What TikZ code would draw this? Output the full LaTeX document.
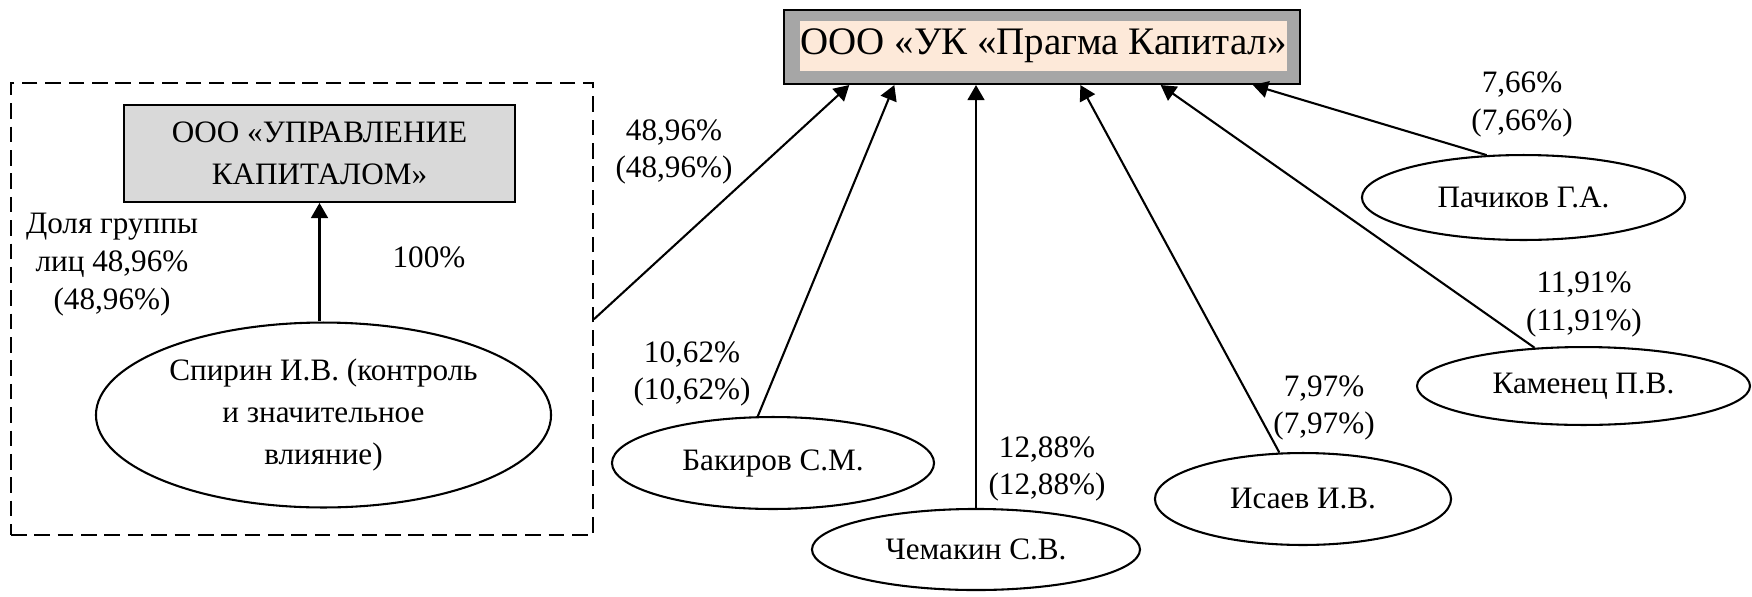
\documentclass[tikz,border=0pt]{standalone}
\usepackage{fontspec}
\setmainfont{Liberation Serif}
\usetikzlibrary{shapes.geometric,arrows.meta,calc}

\definecolor{peach}{HTML}{FDE9D9}
\definecolor{framegray}{HTML}{A6A6A6}
\definecolor{boxgray}{HTML}{D9D9D9}

\begin{document}
\begin{tikzpicture}[x=0.385pt,y=-0.385pt,
  every node/.style={inner sep=0pt,align=center,font=\fontsize{12}{16}\selectfont},
  owner/.style={draw,ellipse,line width=0.8pt},
  share/.style={font=\fontsize{12}{14.5}\selectfont},
  link/.style={line width=0.8pt,-{Triangle[length=5.8pt,width=6.5pt]}}]
\useasboundingbox (0,0) rectangle (1752,596);

\node[draw,dash pattern=on 6pt off 3pt,line width=0.7pt,minimum width=224.1pt,minimum height=174pt] (group) at (302,309) {};
\node[draw,fill=boxgray,line width=0.8pt,minimum width=150.5pt,minimum height=37.3pt] (Upr) at (319.5,153.5) {ООО «УПРАВЛЕНИЕ\\КАПИТАЛОМ»};
\node[owner,minimum width=175.2pt,minimum height=71.2pt] (Spirin) at (323.5,415) {Спирин И.В. (контроль\\и значительное\\влияние)};
\node[share] (groupshare) at (112,264.5) {Доля группы\\лиц 48,96\%\\(48,96\%)};
\node[share] (share100) at (429,257) {100\%};

\node[draw,fill=framegray,line width=0.8pt,minimum width=198.7pt,minimum height=28.5pt] (top) at (1042,47) {};
\node[fill=peach,minimum width=186.7pt,minimum height=19.25pt,font=\fontsize{15}{18}\selectfont] (topname) at (1043.5,46) {ООО «УК «Прагма Капитал»};

\node[owner,minimum width=124pt,minimum height=35.4pt] (Bakirov) at (773,463) {Бакиров С.М.};
\node[owner,minimum width=126.3pt,minimum height=31.2pt] (Chemakin) at (976,549.5) {Чемакин С.В.};
\node[owner,minimum width=114pt,minimum height=35.4pt] (Isaev) at (1303,499) {Исаев И.В.};
\node[owner,minimum width=128.2pt,minimum height=30pt] (Kamenets) at (1583.5,386) {Каменец П.В.};
\node[owner,minimum width=124.4pt,minimum height=32.7pt] (Pachikov) at (1523.5,197.5) {Пачиков Г.А.};

\node[share] (share4896) at (674,152) {48,96\%\\(48,96\%)};
\node[share] (share1062) at (692,374) {10,62\%\\(10,62\%)};
\node[share] (share1288) at (1047,469) {12,88\%\\(12,88\%)};
\node[share] (share797) at (1324,408) {7,97\%\\(7,97\%)};
\node[share] (share1191) at (1584,304.5) {11,91\%\\(11,91\%)};
\node[share] (share766) at (1522,104.5) {7,66\%\\(7,66\%)};

\draw[link] (Spirin.north -| Upr.south) -- (Upr.south);
\draw[link] (group.-2) -- ($(top.south west)!0.128!(top.south east)$);
\draw[link] (Bakirov.108) -- ($(top.south west)!0.215!(top.south east)$);
\draw[link] (Chemakin.north) -- (Chemakin.north |- top.south);
\draw[link] (Isaev.117) -- ($(top.south west)!0.574!(top.south east)$);
\draw[link] (Kamenets.142) -- ($(top.south west)!0.729!(top.south east)$);
\draw[link] (Pachikov.131) -- ($(top.south west)!0.907!(top.south east)$);
\end{tikzpicture}
\end{document}
